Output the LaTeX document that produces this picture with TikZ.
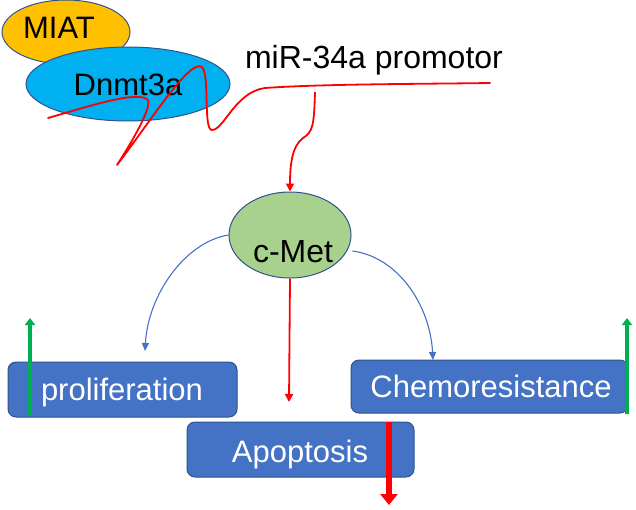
\documentclass[tikz,border=0pt]{standalone}
\usepackage{fontspec}
\setmainfont{Liberation Sans}
\usetikzlibrary{arrows.meta,shapes.geometric}
\definecolor{miatc}{HTML}{FFC000}
\definecolor{dnmtc}{HTML}{00B0F0}
\definecolor{cmetc}{HTML}{A9D18E}
\definecolor{edgec}{HTML}{2F528F}
\definecolor{boxc}{HTML}{4472C4}
\definecolor{redc}{HTML}{FF0000}
\definecolor{greenc}{HTML}{00B050}
\begin{document}
\begin{tikzpicture}[x=1pt,y=-1pt,
  oval/.style={ellipse,draw=edgec,line width=1pt,inner sep=0pt},
  lbl/.style={anchor=base,inner sep=0pt,font=\fontsize{31}{36}\selectfont},
  wlbl/.style={lbl,text=white},
  pbox/.style={rectangle,rounded corners=8pt,draw=edgec,line width=1pt,fill=boxc,inner sep=0pt},
  redline/.style={draw=redc,line width=1.8pt},
  redarr/.style={redline,-{Triangle[width=8pt,length=8pt]}},
  bluearr/.style={draw=boxc,line width=1.1pt,-{Triangle[width=7pt,length=8pt]}},
  greenarr/.style={draw=greenc,line width=4pt,-{Triangle[width=10pt,length=7pt]}},
  bigred/.style={draw=redc,line width=6.5pt,-{Triangle[width=17pt,length=11pt]}}]
\useasboundingbox (0,0) rectangle (636,509);
% top ellipses
\node[oval,fill=miatc,minimum width=128pt,minimum height=64pt] (miat) at (66,32) {};
\node[lbl] (miatt) at (59,38) {MIAT};
\node[oval,fill=dnmtc,minimum width=204pt,minimum height=74pt] (dnmt) at (128,84) {};
\node[lbl] (dnmtt) at (128,95) {Dnmt3a};
\node[lbl,font=\fontsize{32}{36}\selectfont] (prom) at (374,68) {miR-34a promotor};
% squiggle (promoter DNA)
\coordinate (sq0) at (48,118);
\coordinate (sqend) at (490,83);
\draw[redline,line cap=round,line join=round] (sq0)
  .. controls (90,106) and (138,90) .. (148,100)
  .. controls (152,108) and (130,145) .. (117,165)
  .. controls (150,122) and (190,58) .. (202,67)
  .. controls (210,75) and (203,130) .. (212,130)
  .. controls (224,130) and (235,92) .. (265,88)
  .. controls (320,84) and (420,84) .. (sqend);
% c-Met
\node[oval,fill=cmetc,minimum width=122pt,minimum height=86pt] (cmet) at (290,235) {};
\node[lbl,font=\fontsize{32}{36}\selectfont] (cmett) at (293,262) {c-Met};
\coordinate (pr) at (315,92);
\draw[redarr] (pr) .. controls (314,125) and (313,132) .. (303,138)
  .. controls (292,146) and (290,165) .. (cmet.north);
% boxes
\node[pbox,minimum width=229pt,minimum height=55pt] (prolif) at (122.5,389.5) {};
\node[wlbl] (prolift) at (122,400) {proliferation};
\node[pbox,minimum width=277pt,minimum height=53pt] (chemo) at (489.5,386.5) {};
\node[wlbl] (chemot) at (491,397) {Chemoresistance};
\node[pbox,minimum width=227pt,minimum height=55pt] (apop) at (300.5,449.5) {};
\node[wlbl] (apopt) at (300,462) {Apoptosis};
% c-Met effects
\coordinate (tipL) at (145,351);
\coordinate (tipR) at (433,360);
\coordinate (tipM) at (289,402);
\draw[bluearr] (cmet.west) .. controls (185,242) and (148,295) .. (tipL);
\draw[bluearr] (cmet.east) ++(1,16) .. controls (398,257) and (430,305) .. (tipR);
\draw[redarr] (cmet.south) -- (tipM);
% up/down indicators
\coordinate (g1s) at (30,416);
\coordinate (g1e) at (30,318);
\coordinate (g2s) at (627,414);
\coordinate (g2e) at (627,318);
\coordinate (r1s) at (389,422);
\coordinate (r1e) at (389,505);
\draw[greenarr] (g1s) -- (g1e);
\draw[greenarr] (g2s) -- (g2e);
\draw[bigred] (r1s) -- (r1e);
\end{tikzpicture}
\end{document}
